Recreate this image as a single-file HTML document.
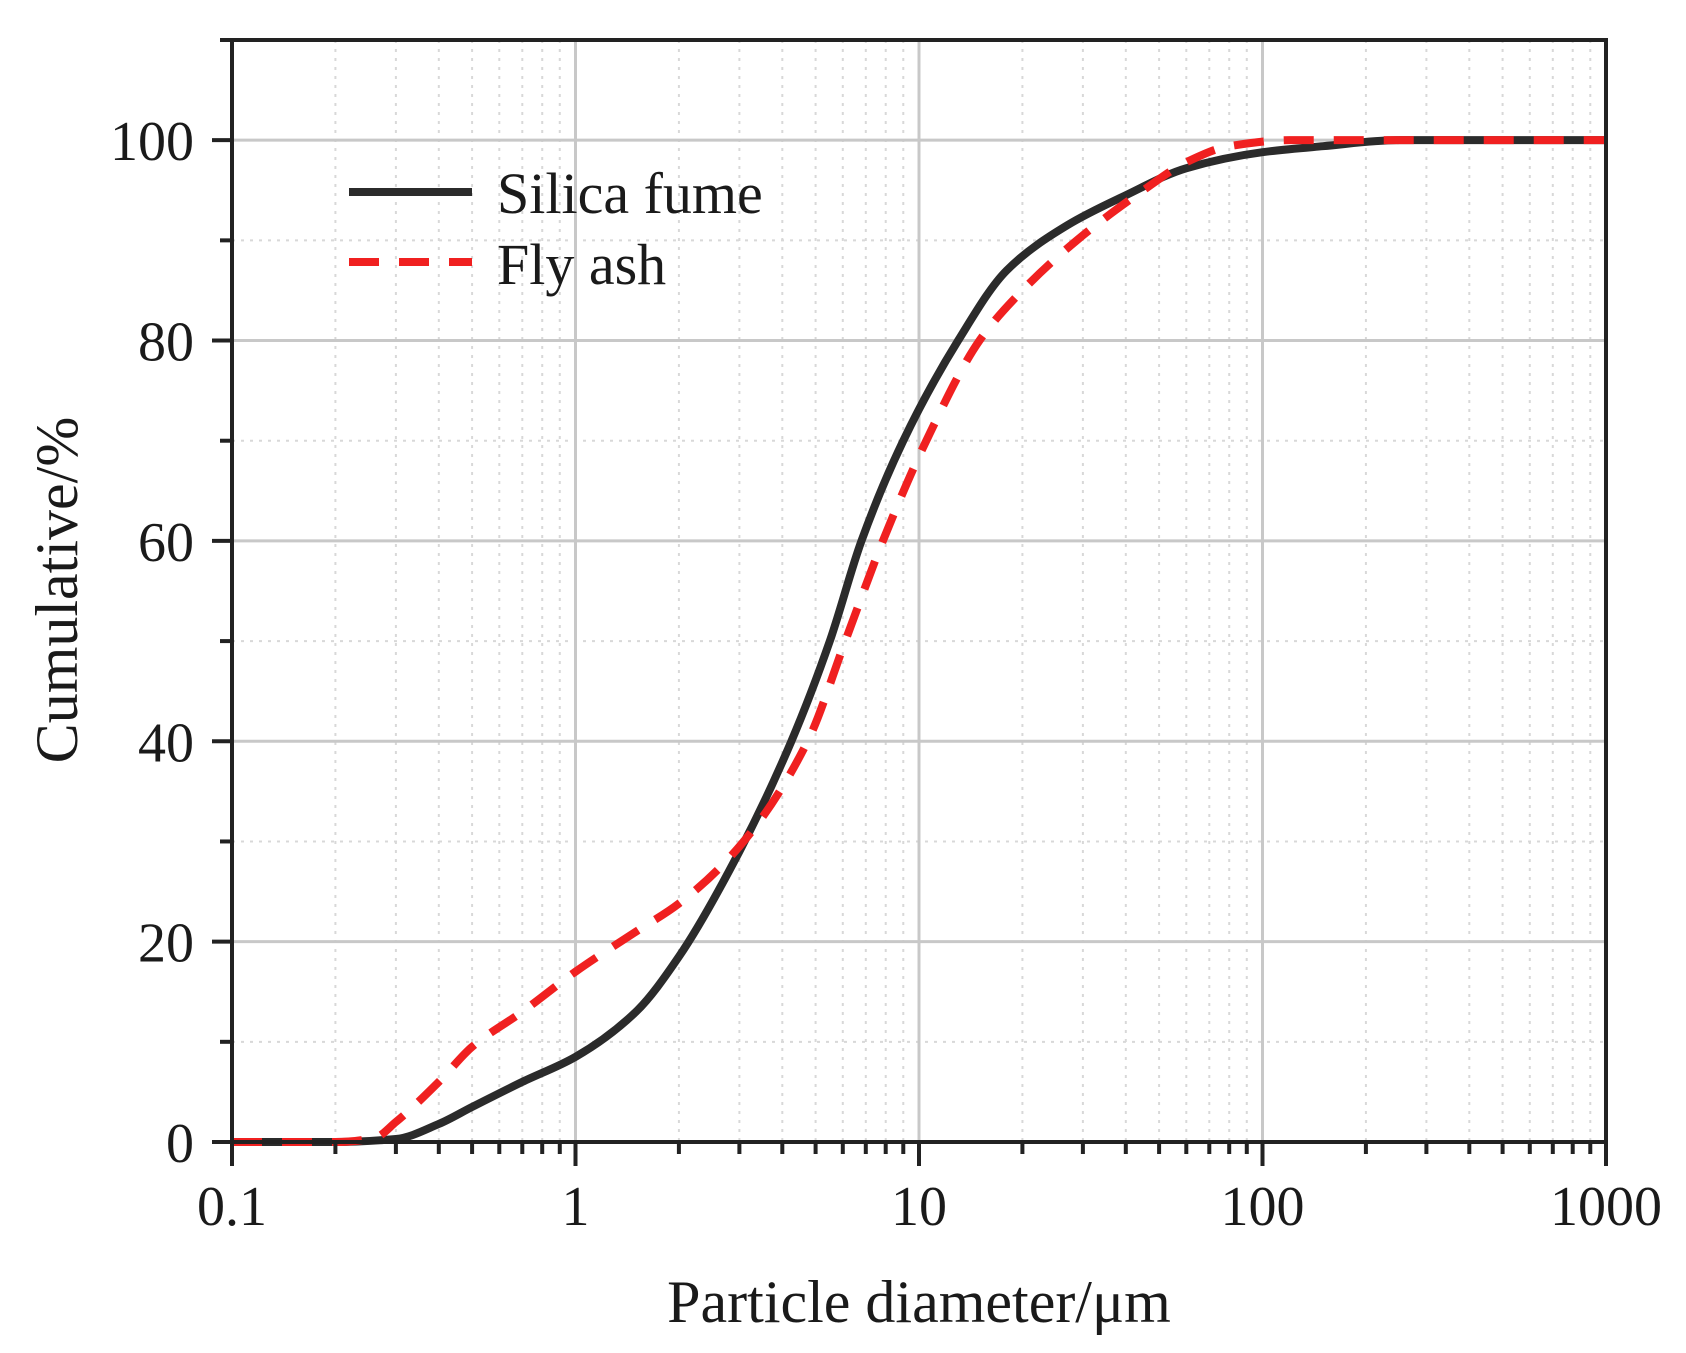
<!DOCTYPE html>
<html><head><meta charset="utf-8"><style>
html,body{margin:0;padding:0;background:#fff;width:1686px;height:1353px;overflow:hidden}
svg{display:block;font-family:"Liberation Serif",serif}
</style></head><body>
<svg id="chart" width="1686" height="1353" viewBox="0 0 1686 1353" xmlns="http://www.w3.org/2000/svg">
<g id="grid"></g>
<g id="series"></g>
<g id="axes"></g>
<g>
<line x1="349" y1="192" x2="472" y2="192" stroke="#2b2b2b" stroke-width="8"/>
<text x="497" y="213" font-size="58" fill="#1a1a1a">Silica fume</text>
<line x1="349" y1="262" x2="472" y2="262" stroke="#f02020" stroke-width="8" stroke-dasharray="30,20"/>
<text x="497" y="284" font-size="58" fill="#1a1a1a">Fly ash</text>
</g>
<text x="919" y="1322" font-size="60" text-anchor="middle" fill="#1a1a1a">Particle diameter/μm</text>
<text transform="translate(77,590) rotate(-90)" font-size="60" text-anchor="middle" fill="#1a1a1a">Cumulative/%</text>
</svg>
<script>
const xTickValues=[0.1,1,10,100,1000];
const xTickLabels=["0.1","1","10","100","1000"];
const yTickValues=[0,20,40,60,80,100];
const yTickLabels=["0","20","40","60","80","100"];
const silicaX=[0.1,0.2,0.3,0.4,0.5,0.7,1,1.5,2,3,4.25,5.5,6.8,9,13,18,27,40,60,100,150,250,1000];
const silicaY=[0,0,0.3,1.8,3.5,6,8.5,13,18.5,29,40,50,60,70,80,87,91.5,94.5,97.2,98.8,99.4,100,100];
const flyX=[0.1,0.2,0.26,0.3,0.4,0.5,0.7,1,1.5,2,3,4.74,6.1,7.85,10.5,15,20,28.8,45,60,80,120,1000];
const flyY=[0,0,0.4,2,6,9.5,13,17,21,23.8,29.5,40,50,60,70,80,85,90,95,97.8,99.4,100,100];

const L=232,R=1606,T=40,B=1142,XMIN=-1,XMAX=3,YMAX=110;
const sx=v=>L+(Math.log10(v)-XMIN)/(XMAX-XMIN)*(R-L);
const sy=v=>B-v/YMAX*(B-T);
const NS="http://www.w3.org/2000/svg";
function mk(tag,attrs,parent){const e=document.createElementNS(NS,tag);for(const k in attrs)e.setAttribute(k,attrs[k]);parent.appendChild(e);return e;}
const grid=document.getElementById('grid'),axes=document.getElementById('axes'),series=document.getElementById('series');

for(let d=-1;d<3;d++){for(let m=2;m<=9;m++){const x=sx(m*Math.pow(10,d));
const g=mk('line',{x1:x,y1:T,x2:x,y2:B,stroke:'#d8d8d8','stroke-width':2,'stroke-dasharray':'3,6'},grid);

const t=mk('line',{x1:x,y1:B,x2:x,y2:B+12,stroke:'#222','stroke-width':4},axes);
}}
for(let v=10;v<=110;v+=20){const y=sy(v);
const g=mk('line',{x1:L,y1:y,x2:R,y2:y,stroke:'#d8d8d8','stroke-width':2,'stroke-dasharray':'3,6'},grid);

const t=mk('line',{x1:L-12,y1:y,x2:L,y2:y,stroke:'#222','stroke-width':4},axes);
}
xTickValues.forEach((v,i)=>{const x=sx(v);
if(i>0&&i<xTickValues.length-1){const g=mk('line',{x1:x,y1:T,x2:x,y2:B,stroke:'#c8c8c8','stroke-width':3},grid);
}
const t=mk('line',{x1:x,y1:B,x2:x,y2:B+24,stroke:'#222','stroke-width':4},axes);

const lb=mk('text',{x:x,y:1225,'font-size':56,'text-anchor':'middle',fill:'#1a1a1a'},axes);lb.textContent=xTickLabels[i];
});
yTickValues.forEach((v,i)=>{const y=sy(v);
if(v>0){const g=mk('line',{x1:L,y1:y,x2:R,y2:y,stroke:'#c8c8c8','stroke-width':3},grid);
}
const t=mk('line',{x1:L-20,y1:y,x2:L,y2:y,stroke:'#222','stroke-width':4},axes);

const lb=mk('text',{x:194,y:y+20,'font-size':56,'text-anchor':'end',fill:'#1a1a1a'},axes);lb.textContent=yTickLabels[i];
});
const fr=mk('rect',{x:L,y:T,width:R-L,height:B-T,fill:'none',stroke:'#222','stroke-width':4},axes);


// monotone cubic (Fritsch-Carlson) in pixel space
function pathFor(xs,ys){const P=xs.map((x,i)=>[sx(x),sy(ys[i])]);const n=P.length;
const dx=[],s=[];for(let i=0;i<n-1;i++){dx[i]=P[i+1][0]-P[i][0];s[i]=(P[i+1][1]-P[i][1])/dx[i];}
const m=[s[0]];for(let i=1;i<n-1;i++){m[i]=(s[i-1]*s[i]<=0)?0:3*(dx[i-1]+dx[i])/((2*dx[i]+dx[i-1])/s[i-1]+(dx[i]+2*dx[i-1])/s[i]);}
m[n-1]=s[n-2];
let d='M'+P[0][0]+','+P[0][1];
for(let i=0;i<n-1;i++){const h=dx[i];
d+=' C'+(P[i][0]+h/3)+','+(P[i][1]+m[i]*h/3)+' '+(P[i+1][0]-h/3)+','+(P[i+1][1]-m[i+1]*h/3)+' '+P[i+1][0]+','+P[i+1][1];}
return d;}
const s1=mk('path',{d:pathFor(silicaX,silicaY),fill:'none',stroke:'#2b2b2b','stroke-width':8,'stroke-linejoin':'round'},series);

const s2=mk('path',{d:pathFor(flyX,flyY),fill:'none',stroke:'#f02020','stroke-width':8,'stroke-dasharray':'30,20'},series);

</script>
</body></html>
